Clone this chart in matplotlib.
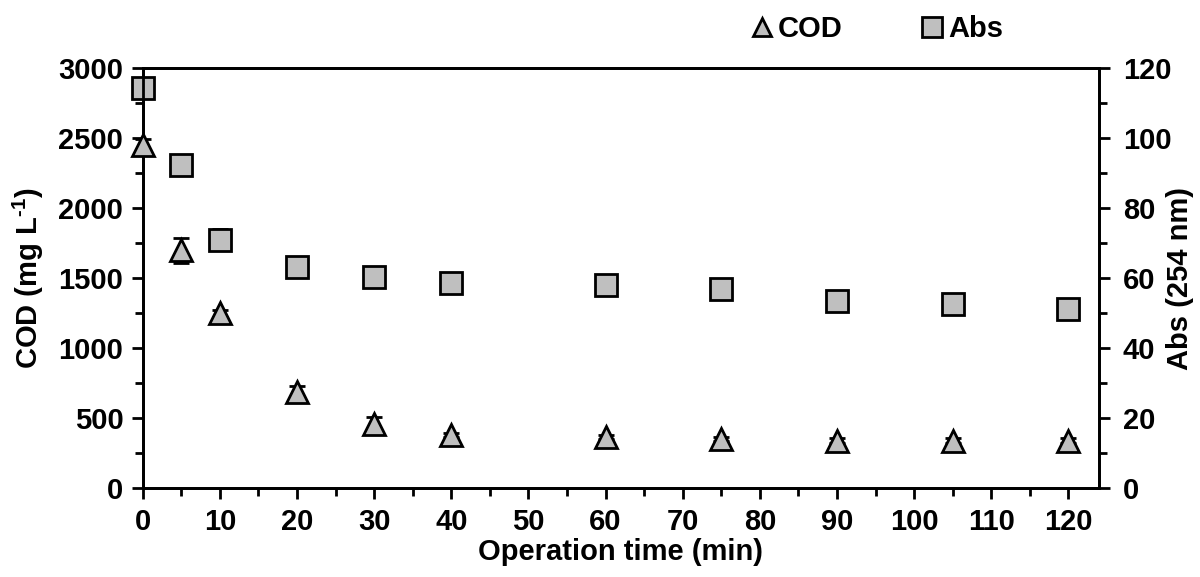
import matplotlib
matplotlib.use("Agg")
import matplotlib.pyplot as plt
from matplotlib.ticker import MultipleLocator
from matplotlib.lines import Line2D

plt.rcParams['font.family'] = ['Liberation Sans', 'DejaVu Sans']
plt.rcParams['font.weight'] = 'bold'
plt.rcParams['mathtext.fontset'] = 'custom'
plt.rcParams['mathtext.rm'] = 'Liberation Sans:bold'
plt.rcParams['mathtext.bf'] = 'Liberation Sans:bold'

# Operation time (min)
time_min = [0, 5, 10, 20, 30, 40, 60, 75, 90, 105, 120]
# COD (mg/L) and standard deviation
cod = [2450, 1700, 1250, 690, 460, 380, 365, 350, 340, 340, 340]
cod_err = [40, 90, 25, 40, 50, 15, 15, 15, 15, 15, 15]
# Absorbance at 254 nm and standard deviation
absb = [114.3, 92.2, 71.0, 63.2, 60.3, 58.5, 58.0, 57.0, 53.4, 52.6, 51.2]
abs_err = [1.5, 0.6, 3.0, 0.6, 0.4, 0.3, 0.3, 0.3, 0.3, 0.3, 0.3]

fill = '#bfbfbf'
fs = 21

fig = plt.figure(figsize=(12, 5.77), dpi=100)
ax = fig.add_axes([0.119, 0.154, 0.797, 0.728])
ax2 = ax.twinx()

ax.errorbar(time_min, cod, yerr=cod_err, fmt='^', ms=16, mfc=fill, mec='black',
            mew=2, ecolor='black', elinewidth=2, capsize=6, capthick=2.5,
            zorder=3, clip_on=False)
ax2.errorbar(time_min, absb, yerr=abs_err, fmt='s', ms=16, mfc=fill, mec='black',
             mew=2, ecolor='black', elinewidth=2, capsize=6, capthick=2.5,
             zorder=3, clip_on=False)

ax.set_xlim(0, 124)
ax.set_ylim(0, 3000)
ax2.set_ylim(0, 120)

ax.xaxis.set_major_locator(MultipleLocator(10))
ax.xaxis.set_minor_locator(MultipleLocator(5))
ax.yaxis.set_major_locator(MultipleLocator(500))
ax.yaxis.set_minor_locator(MultipleLocator(250))
ax2.yaxis.set_major_locator(MultipleLocator(20))
ax2.yaxis.set_minor_locator(MultipleLocator(10))

for a in (ax, ax2):
    for s in a.spines.values():
        s.set_linewidth(2)
        s.set_color('black')
    a.tick_params(which='both', direction='out', width=2, labelsize=fs, pad=6)
    a.tick_params(which='major', length=8)
    a.tick_params(which='minor', length=6)
ax.tick_params(axis='x', which='both', top=False)
ax2.tick_params(axis='y', pad=9)

ax.set_xlabel('Operation time (min)', fontsize=fs, fontweight='bold', labelpad=2)
ax.set_ylabel(r'COD (mg L$^{\text{-1}}$)', fontsize=fs, fontweight='bold')
ax2.set_ylabel('Abs (254 nm)', fontsize=fs, fontweight='bold')
ax.yaxis.set_label_coords(-0.12, 0.5)
ax.yaxis.label.set_va('center')
ax2.yaxis.set_label_coords(1.085, 0.5)
ax2.yaxis.label.set_va('center')

handles = [
    Line2D([], [], ls='none', marker='^', ms=13, mfc=fill, mec='black', mew=2),
    Line2D([], [], ls='none', marker='s', ms=15, mfc=fill, mec='black', mew=2),
]
fig.legend(handles, ['COD', 'Abs'], loc='center', bbox_to_anchor=(0.73, 0.95),
           ncol=2, frameon=False, handletextpad=0.1, columnspacing=2.6,
           handlelength=0.9, prop={'weight': 'bold', 'size': fs})

ax.set_zorder(ax2.get_zorder() + 1)
ax.patch.set_visible(False)

fig.savefig('out.png', dpi=100)
